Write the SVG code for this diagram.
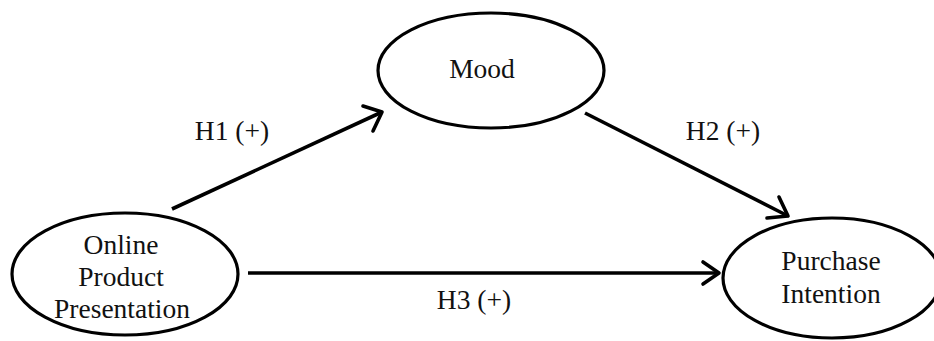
<svg xmlns="http://www.w3.org/2000/svg" width="934" height="341" viewBox="0 0 934 341">
<defs>
<style>
.node ellipse{fill:#fff;stroke:#000;stroke-width:3.2}
text{font-family:"Liberation Serif","Times New Roman",serif;font-size:27.5px;fill:#111;text-anchor:middle}
.conn line{stroke:#000;stroke-width:3.6;fill:none}
.conn path{stroke:#000;stroke-width:3.6;fill:none;stroke-linecap:round;stroke-linejoin:round}
</style>
</defs>
<rect width="934" height="341" fill="#fff"/>
<g id="connectors" class="conn">
<line x1="172" y1="209" x2="382" y2="112"/>
<path d="M363,106 L382,112 L373,131"/>
<line x1="585" y1="113" x2="788" y2="216"/>
<path d="M779,197 L788,216 L767,218"/>
<line x1="248" y1="273" x2="719" y2="273"/>
<path d="M703,262 L719,273 L703,284"/>
<text x="232" y="140">H1 (+)</text>
<text x="723" y="140">H2 (+)</text>
<text x="474" y="309">H3 (+)</text>
</g>
<g id="mood" class="node">
<ellipse cx="491" cy="70.5" rx="113" ry="57.5"/>
<text x="482" y="78">Mood</text>
</g>
<g id="online" class="node">
<ellipse cx="125" cy="274" rx="113" ry="61"/>
<text x="121" y="254">Online</text>
<text x="121" y="286">Product</text>
<text x="122" y="318">Presentation</text>
</g>
<g id="purchase" class="node">
<ellipse cx="832" cy="278" rx="109" ry="60"/>
<text x="831" y="270">Purchase</text>
<text x="831" y="303">Intention</text>
</g>
</svg>
